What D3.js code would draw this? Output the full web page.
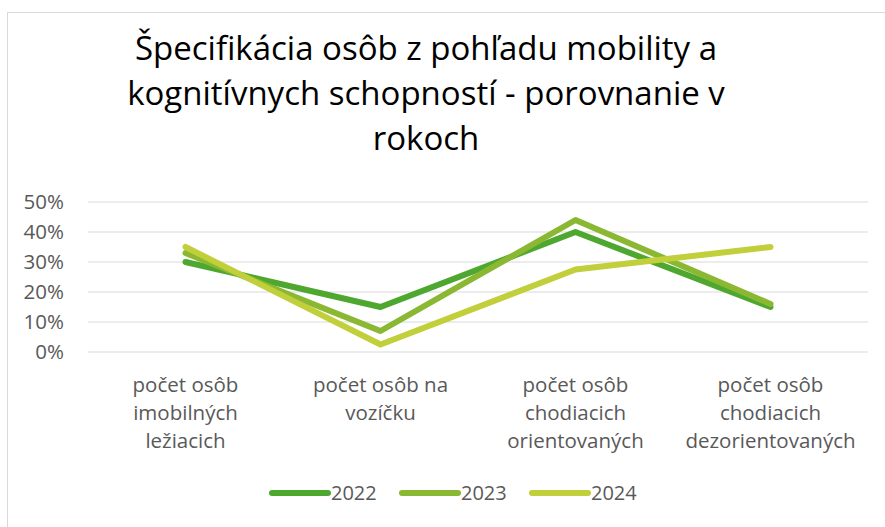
<!DOCTYPE html>
<html>
<head>
<meta charset="utf-8">
<script src="https://cdn.jsdelivr.net/npm/d3@7"></script>
<style>
  body { margin: 0; background: #fff; }
  svg { font-family: "Open Sans", sans-serif; }
</style>
</head>
<body>
<svg id="chart" width="885" height="527"></svg>
<script>
// chart data
const categories = [
  ['počet osôb', 'imobilných', 'ležiacich'],
  ['počet osôb na', 'vozíčku'],
  ['počet osôb', 'chodiacich', 'orientovaných'],
  ['počet osôb', 'chodiacich', 'dezorientovaných']
];
const years = ['2022', '2023', '2024'];
const values2022 = [0.30, 0.15, 0.40, 0.15];
const values2023 = [0.33, 0.07, 0.44, 0.16];
const values2024 = [0.35, 0.025, 0.275, 0.35];
const yTicks = [0, 0.1, 0.2, 0.3, 0.4, 0.5];
const titleLines = [
  'Špecifikácia osôb z pohľadu mobility a',
  'kognitívnych schopností - porovnanie v',
  'rokoch'
];

const series = [
  { name: years[0], values: values2022, color: '#4ea72e' },
  { name: years[1], values: values2023, color: '#8ab833' },
  { name: years[2], values: values2024, color: '#c0cf3a' }
];

const svg = d3.select('#chart');
const margin = { left: 88, right: 17, top: 202, bottom: 175 };
const width = 885 - margin.left - margin.right;
const height = 527 - margin.top - margin.bottom;

// outer frame
svg.append('rect')
  .attr('x', 7.5).attr('y', 12.5)
  .attr('width', 900).attr('height', 600)
  .attr('fill', 'none')
  .attr('stroke', '#d9d9d9');

// title
svg.append('g')
  .selectAll('text')
  .data(titleLines)
  .enter()
  .append('text')
  .attr('x', 426)
  .attr('y', (d, i) => 60 + i * 45)
  .attr('text-anchor', 'middle')
  .attr('font-size', 33)
  .attr('fill', '#000')
  .text((d) => d);

const x = d3.scalePoint()
  .domain(d3.range(categories.length))
  .range([0, width])
  .padding(0.5);

const y = d3.scaleLinear().domain([0, 0.5]).range([height, 0]);

const g = svg.append('g')
  .attr('transform', 'translate(' + margin.left + ',' + margin.top + ')');

// gridlines
g.append('g')
  .selectAll('line')
  .data(yTicks)
  .enter()
  .append('line')
  .attr('x1', 0).attr('x2', width)
  .attr('y1', (d) => y(d)).attr('y2', (d) => y(d))
  .attr('stroke', '#d9d9d9')
  .attr('stroke-width', 1);

// y axis labels
const yAxis = g.append('g')
  .call(d3.axisLeft(y).tickValues(yTicks).tickFormat(d3.format('.0%')).tickSize(0).tickPadding(24));
yAxis.select('.domain').remove();
yAxis.selectAll('text')
  .attr('font-family', '"Open Sans", sans-serif')
  .attr('font-size', 20.5)
  .attr('fill', '#595959');

// category labels
const xLabels = g.append('g')
  .selectAll('text')
  .data(categories)
  .enter()
  .append('text')
  .attr('x', (d, i) => x(i))
  .attr('y', height + 40)
  .attr('text-anchor', 'middle')
  .attr('font-size', 20.5)
  .attr('fill', '#595959');
xLabels.selectAll('tspan')
  .data((d) => d)
  .enter()
  .append('tspan')
  .attr('x', function () { return d3.select(this.parentNode).attr('x'); })
  .attr('dy', (d, i) => (i === 0 ? 0 : 28))
  .text((d) => d);

// lines
const line = d3.line()
  .x((d, i) => x(i))
  .y((d) => y(d));

g.append('g')
  .selectAll('path')
  .data(series)
  .enter()
  .append('path')
  .attr('d', (d) => line(d.values))
  .attr('fill', 'none')
  .attr('stroke', (d) => d.color)
  .attr('stroke-width', 6)
  .attr('stroke-linecap', 'round')
  .attr('stroke-linejoin', 'round');

// legend
const legend = svg.append('g')
  .attr('transform', 'translate(272,493)');
const item = legend.selectAll('g')
  .data(series)
  .enter()
  .append('g')
  .attr('transform', (d, i) => 'translate(' + i * 130 + ',0)');
item.append('line')
  .attr('x1', 0).attr('x2', 56)
  .attr('y1', 0).attr('y2', 0)
  .attr('stroke', (d) => d.color)
  .attr('stroke-width', 6)
  .attr('stroke-linecap', 'round');
item.append('text')
  .attr('x', 59)
  .attr('y', 7)
  .attr('font-size', 20)
  .attr('fill', '#595959')
  .text((d) => d.name);
</script>
</body>
</html>
